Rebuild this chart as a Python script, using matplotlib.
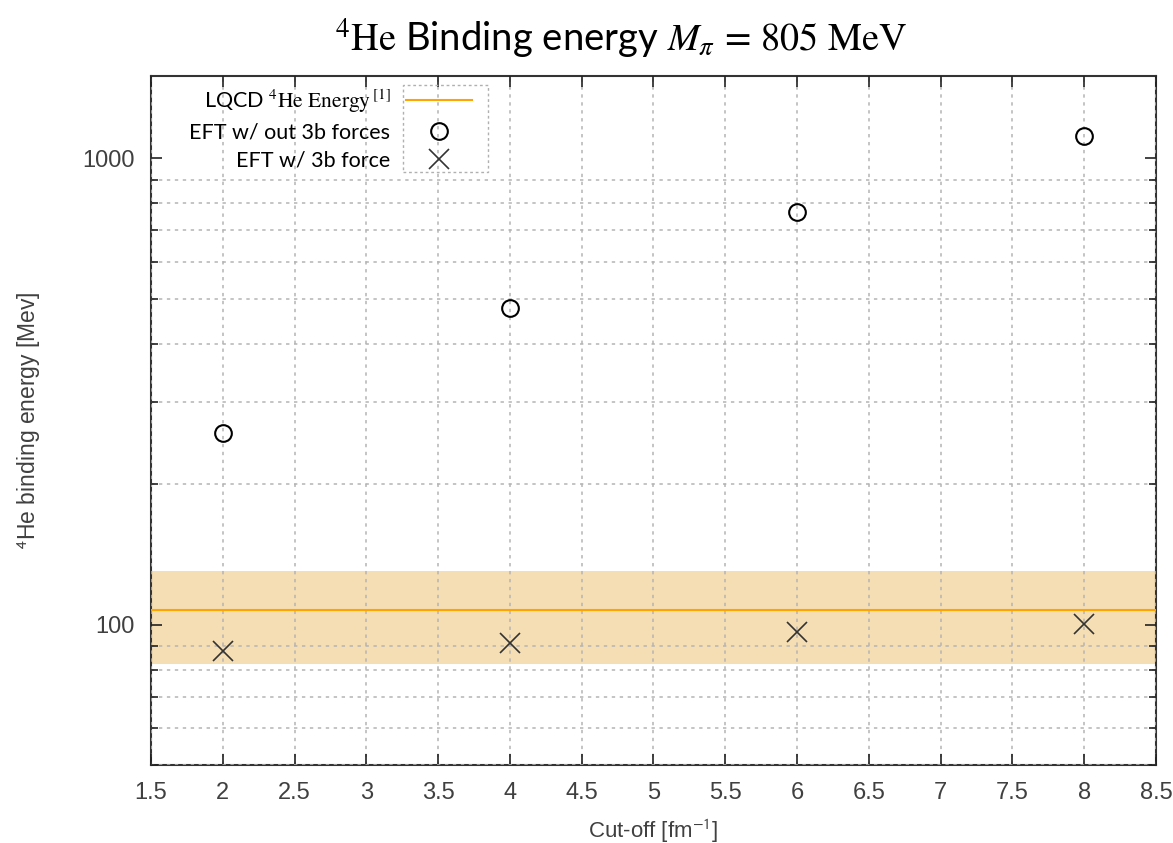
import numpy as np
import matplotlib
matplotlib.use('Agg')
import matplotlib.pyplot as plt
from matplotlib.ticker import LogLocator, NullFormatter, FixedLocator, FixedFormatter, FuncFormatter
from matplotlib.patches import Rectangle

plt.rcParams['mathtext.fontset'] = 'stix'

# data
cutoff = [2, 4, 6, 8]
eft_no3b = [257, 477, 766, 1115]
eft_3b = [88, 91.5, 96.6, 100.5]
lqcd_energy = 107.5
lqcd_low, lqcd_high = 82.5, 130.5

x_ticks = [1.5, 2, 2.5, 3, 3.5, 4, 4.5, 5, 5.5, 6, 6.5, 7, 7.5, 8, 8.5]
x_labels = ['1.5', '2', '2.5', '3', '3.5', '4', '4.5', '5', '5.5', '6', '6.5', '7', '7.5', '8', '8.5']

fig = plt.figure(figsize=(11.73, 8.43), dpi=100)
ax = fig.add_axes([0.1287, 0.0925, 0.8568, 0.8173])

ax.axhspan(lqcd_low, lqcd_high, color='#f5deb3', lw=0, zorder=0)
ax.axhline(lqcd_energy, color='#ffa500', lw=1.5, zorder=3,
           label=r'LQCD $^{4}\mathrm{He\ Energy}\,^{[1]}$')
ax.plot(cutoff, eft_no3b, 'o', ms=12, mfc='none', mec='black', mew=1.5,
        zorder=4, label='EFT w/ out 3b forces')
ax.plot(cutoff, eft_3b, 'x', ms=15, color='#333333', mew=1.2,
        zorder=4, label='EFT w/ 3b force')

ax.set_yscale('log')
ax.set_ylim(50, 1500)
ax.set_xlim(1.5, 8.5)
ax.xaxis.set_major_locator(FixedLocator(x_ticks))
ax.xaxis.set_major_formatter(FixedFormatter(x_labels))
ax.yaxis.set_major_locator(LogLocator(base=10))
ax.yaxis.set_major_formatter(FuncFormatter(lambda v, p: f'{v:g}'))
ax.yaxis.set_minor_locator(LogLocator(base=10, subs=np.arange(2, 10)))
ax.yaxis.set_minor_formatter(NullFormatter())

grid_kw = dict(color='#b4b4b4', linestyle=(0, (2.2, 3)), lw=1.1)
ax.grid(which='major', axis='x', **grid_kw)
ax.grid(which='minor', axis='y', **grid_kw)
ax.grid(which='major', axis='y', visible=False)
ax.set_axisbelow(False)

ax.tick_params(which='both', direction='in', top=True, right=True,
               color='#222222', labelcolor='#404040', labelsize=17, width=1.2)
ax.tick_params(which='major', length=8, pad=12)
ax.tick_params(which='minor', length=5)
for lbl in ax.get_xticklabels() + ax.get_yticklabels():
    lbl.set_family('Liberation Sans')
for sp in ax.spines.values():
    sp.set_color('#333333')
    sp.set_linewidth(1.5)

ax.set_xlabel(r'Cut-off [fm$^{\mathsf{-1}}$]', fontsize=16, color='#404040',
              family='Liberation Sans', labelpad=10)
ax.set_ylabel(r'$^{\mathsf{4}}$He binding energy [Mev]', fontsize=16.5, color='#404040',
              family='Liberation Sans')
ax.yaxis.set_label_coords(-0.107, 0.5)
ax.set_title(r'$^{4}\mathrm{He}$ Binding energy $M_{\pi}\,=\,805\ \mathrm{MeV}$',
             fontsize=27.5, family='Lato', pad=18, x=0.468)

leg = ax.legend(loc='upper left', bbox_to_anchor=(0.019, 1.012), markerfirst=False,
                frameon=False, prop={'family': 'Lato', 'size': 15.5},
                handlelength=3.1, labelspacing=0.36, handletextpad=0.7)
for t in leg.get_texts():
    t.set_ha('right')

ax.add_patch(Rectangle((0.2507, 0.861), 0.0846, 0.126, transform=ax.transAxes,
                       fill=False, ec='#b0b0b0', ls=(0, (2, 2)), lw=1, zorder=5))

plt.savefig('out.png', dpi=100)
plt.close()
